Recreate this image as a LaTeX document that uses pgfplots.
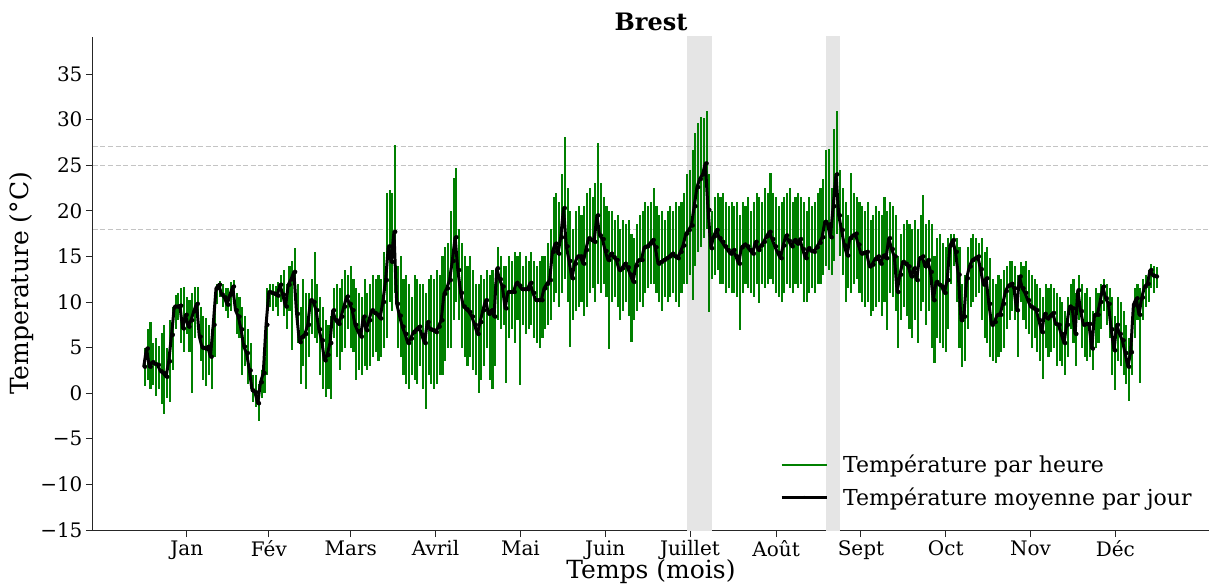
\documentclass[border=0pt]{standalone}
\usepackage{fontspec}
\setmainfont{DejaVu Serif}
\usepackage{pgfplots}
\usepackage{pgfplotstable}
\pgfplotsset{compat=1.18}
\definecolor{hourgreen}{HTML}{008000}
\definecolor{spangray}{HTML}{E5E5E5}
\definecolor{refgray}{HTML}{C4C4C4}

\pgfplotstableread{
d m lo hi
0 2.9 0.8 5.0
1 4.9 1.5 7.0
2 2.9 0.5 7.8
3 3.4 0.9 5.5
4 3.2 -0.3 6.0
5 3.1 0.5 5.2
6 2.4 -1.2 6.6
7 2.2 -2.3 7.5
8 1.8 -0.5 5.0
9 3.5 -1.0 8.0
10 6.4 2.5 9.5
11 9.5 7.0 10.8
12 9.5 8.0 11.0
13 9.6 5.5 11.5
14 7.1 4.5 11.7
15 8.6 6.5 10.5
16 7.3 4.5 10.2
17 8.0 0.0 11.0
18 9.0 6.0 11.6
19 9.8 7.0 11.7
20 6.2 3.5 9.5
21 5.0 1.5 8.5
22 4.9 0.8 8.2
23 5.1 2.0 7.5
24 4.0 0.5 7.0
25 7.5 4.0 9.5
26 11.5 9.8 12.0
27 11.9 10.5 12.3
28 10.8 9.5 12.0
29 10.5 9.0 11.5
30 9.7 8.2 11.5
31 10.8 9.0 12.2
32 11.7 10.0 12.4
33 9.1 6.5 11.0
34 8.4 6.0 10.5
35 7.0 2.0 9.5
36 5.1 3.0 8.5
37 4.4 1.0 7.0
38 2.5 0.5 5.5
39 0.3 -1.0 2.0
40 0.1 -1.5 2.0
41 -1.1 -3.0 1.0
42 1.2 -0.5 2.5
43 2.2 0.0 4.0
44 7.5 2.0 11.5
45 11.1 9.5 12.0
46 11.0 9.0 12.0
47 10.9 9.5 11.8
48 10.7 8.5 12.2
49 11.9 10.0 13.0
50 10.8 8.5 13.5
51 9.5 7.0 12.0
52 11.9 9.0 14.0
53 12.5 4.7 14.5
54 13.3 11.0 15.9
55 8.7 5.5 12.0
56 5.6 1.0 9.5
57 6.2 3.0 12.5
58 6.5 0.5 11.0
59 7.5 4.0 11.0
60 10.2 6.5 12.5
61 10.0 6.0 15.5
62 9.1 5.5 12.0
63 7.0 2.0 10.5
64 5.8 0.5 9.5
65 3.6 -0.4 8.0
66 4.2 0.5 7.5
67 5.5 -0.6 8.5
68 9.1 6.0 11.5
69 8.0 4.0 12.0
70 7.6 2.5 11.5
71 8.4 4.5 12.5
72 9.5 5.0 13.5
73 10.6 7.0 13.0
74 9.8 5.0 14.0
75 9.1 4.5 12.5
76 7.5 1.5 11.5
77 6.8 2.5 11.0
78 6.2 2.0 10.5
79 8.4 3.0 12.5
80 6.9 2.5 11.0
81 8.0 3.0 12.0
82 9.1 4.0 13.0
83 8.8 4.5 12.5
84 8.6 3.5 13.0
85 8.2 4.0 12.5
86 10.0 5.0 15.5
87 12.4 6.0 22.0
88 16.1 10.0 22.3
89 14.4 9.0 22.0
90 17.7 11.0 27.2
91 9.8 5.0 14.0
92 8.5 4.0 15.0
93 7.3 2.0 12.5
94 6.5 1.0 13.0
95 5.5 0.5 12.0
96 6.0 2.0 10.5
97 6.7 1.5 13.0
98 7.0 1.0 12.5
99 7.3 3.0 12.0
100 6.4 0.5 12.0
101 5.5 -1.7 11.0
102 7.8 2.0 12.5
103 7.0 1.0 13.0
104 6.9 0.5 12.5
105 6.7 1.0 13.5
106 7.3 2.0 13.0
107 8.0 2.0 15.0
108 10.9 3.5 16.0
109 11.5 5.0 16.5
110 12.4 5.0 20.0
111 14.5 8.0 23.6
112 17.1 10.0 24.7
113 13.5 8.0 18.0
114 11.0 5.0 16.5
115 9.5 4.0 15.0
116 9.2 3.0 14.0
117 8.9 4.0 15.0
118 8.4 2.5 13.5
119 7.5 2.0 12.0
120 6.5 0.0 12.0
121 7.8 1.5 13.0
122 9.1 3.0 12.5
123 10.2 5.0 13.5
124 8.7 1.5 13.0
125 9.1 0.5 13.5
126 8.4 3.0 12.0
127 13.7 8.0 16.0
128 12.5 7.0 15.0
129 11.7 7.5 14.0
130 9.3 1.1 14.0
131 11.1 6.0 15.0
132 11.1 7.0 14.5
133 11.1 5.5 15.5
134 12.1 8.0 15.0
135 11.8 0.9 15.5
136 11.4 7.5 14.0
137 11.4 6.5 15.0
138 11.4 7.0 14.5
139 12.1 7.5 15.5
140 11.0 6.0 14.5
141 10.2 5.5 14.0
142 10.2 5.0 14.5
143 10.2 6.0 15.0
144 11.5 7.0 15.0
145 12.0 7.5 16.5
146 12.4 8.0 18.0
147 15.5 10.0 21.5
148 16.4 11.0 22.0
149 15.3 9.5 21.0
150 17.1 11.0 24.0
151 20.3 12.5 28.1
152 16.1 10.0 22.5
153 14.5 5.1 20.0
154 12.6 8.0 18.0
155 14.2 9.0 20.0
156 15.0 9.5 20.5
157 15.0 10.0 19.5
158 14.2 8.5 20.5
159 15.7 9.5 22.0
160 17.0 11.0 22.5
161 16.8 11.5 21.5
162 16.6 10.0 23.0
163 19.5 12.0 27.4
164 17.3 11.0 23.0
165 16.9 12.0 21.5
166 15.6 10.5 20.5
167 14.6 4.9 20.0
168 15.3 10.0 20.0
169 14.9 10.5 19.0
170 14.6 9.5 19.5
171 13.5 8.0 18.0
172 13.7 9.0 19.0
173 14.2 10.0 18.5
174 13.8 8.5 19.0
175 13.0 5.6 17.5
176 12.2 8.0 17.0
177 14.0 9.0 18.5
178 14.6 10.0 19.5
179 14.6 9.5 20.0
180 16.0 11.0 21.0
181 16.1 11.5 20.5
182 16.4 12.0 21.0
183 16.8 12.0 22.5
184 16.0 11.0 20.5
185 14.2 10.0 19.5
186 14.4 9.0 20.0
187 14.6 10.5 19.0
188 14.8 10.0 20.0
189 15.0 10.5 20.5
190 15.3 11.0 20.0
191 15.0 10.0 21.0
192 14.8 9.5 20.5
193 15.5 11.0 21.0
194 16.2 12.0 22.0
195 17.5 12.0 24.0
196 17.9 13.0 24.5
197 18.4 10.2 26.7
198 20.5 14.0 28.5
199 22.6 15.5 29.6
200 23.5 16.0 30.3
201 24.0 17.0 30.2
202 25.2 18.0 30.9
203 20.1 8.9 24.0
204 15.9 12.5 20.0
205 17.2 13.0 21.5
206 17.9 13.5 22.0
207 17.0 12.0 21.5
208 16.6 12.0 22.0
209 16.1 11.0 21.0
210 15.7 11.5 20.5
211 15.3 11.0 21.0
212 15.7 11.0 20.5
213 15.0 10.5 21.0
214 14.2 6.9 19.5
215 16.0 11.0 21.0
216 16.3 12.0 20.5
217 16.1 11.5 21.5
218 15.7 11.0 20.0
219 15.3 10.5 21.0
220 16.6 12.0 22.0
221 15.7 9.9 21.5
222 16.2 12.0 21.0
223 16.6 11.5 22.5
224 17.2 12.0 22.0
225 17.7 12.5 24.1
226 16.9 12.0 22.0
227 16.1 11.0 21.5
228 15.4 10.5 20.5
229 14.8 10.0 21.0
230 16.2 11.0 21.5
231 17.3 12.0 22.0
232 16.7 11.5 22.5
233 16.1 11.0 21.0
234 16.8 12.0 21.5
235 16.4 11.5 22.0
236 16.9 12.0 21.5
237 15.8 10.0 21.0
238 14.8 10.0 20.0
239 15.9 11.0 21.5
240 15.6 11.5 20.5
241 15.5 11.0 21.0
242 16.0 12.0 22.0
243 16.5 12.0 22.5
244 17.1 13.0 23.5
245 18.8 14.0 26.7
246 18.5 13.5 26.8
247 17.1 13.0 22.5
248 20.5 14.5 29.0
249 24.0 17.5 30.9
250 19.5 15.0 24.5
251 17.9 13.0 22.5
252 16.2 10.0 21.0
253 15.1 11.5 19.5
254 17.0 11.0 24.1
255 17.3 12.0 22.0
256 17.5 12.5 21.5
257 16.3 11.0 21.0
258 15.3 10.0 20.5
259 15.4 9.5 20.0
260 15.5 10.0 21.0
261 13.9 8.5 19.0
262 14.1 9.0 19.5
263 14.7 9.5 20.5
264 15.0 10.0 20.0
265 14.2 8.5 19.5
266 15.1 10.0 21.5
267 14.8 6.9 20.0
268 17.0 11.0 21.0
269 15.8 10.5 20.5
270 15.0 9.0 19.5
271 11.1 5.0 15.0
272 13.0 8.0 17.5
273 14.4 9.5 18.5
274 14.2 8.5 19.0
275 13.9 7.0 18.5
276 12.8 6.0 18.0
277 13.7 8.0 19.0
278 12.4 5.5 18.0
279 14.8 9.0 19.5
280 15.0 10.0 21.7
281 13.9 7.5 18.5
282 14.6 9.0 19.0
283 13.3 5.0 18.5
284 10.2 3.3 15.0
285 12.2 6.0 17.0
286 11.9 5.5 17.5
287 11.7 5.0 16.5
288 11.0 4.5 16.0
289 12.4 7.0 17.0
290 16.2 12.0 17.5
291 16.8 14.0 17.5
292 15.5 10.0 17.0
293 13.0 5.0 16.0
294 8.0 2.9 12.0
295 8.4 3.5 13.0
296 12.6 7.0 16.0
297 13.9 9.5 17.0
298 14.6 10.0 17.5
299 14.8 10.5 17.0
300 15.0 11.0 16.5
301 13.6 8.0 17.0
302 11.9 6.0 15.5
303 12.6 5.5 16.0
304 9.8 4.0 14.8
305 7.5 3.5 12.5
306 7.8 3.3 12.0
307 8.6 4.0 13.0
308 8.6 4.5 12.5
309 9.8 5.0 13.5
310 11.2 7.0 14.0
311 11.8 8.0 14.5
312 12.0 9.0 14.5
313 11.5 8.0 14.0
314 9.1 4.0 13.0
315 12.8 10.0 14.4
316 11.5 8.0 14.0
317 11.0 7.0 14.5
318 10.2 6.5 13.5
319 9.5 5.0 13.0
320 9.3 6.0 12.5
321 9.1 4.5 12.0
322 8.0 3.5 11.5
323 6.7 1.6 10.5
324 8.7 5.0 12.0
325 8.2 4.0 11.5
326 8.5 4.5 12.0
327 8.8 5.0 11.5
328 7.6 3.0 11.0
329 7.5 3.5 10.5
330 6.5 3.0 10.0
331 5.5 2.0 9.0
332 7.5 4.0 10.5
333 9.5 7.0 12.0
334 9.3 5.5 12.5
335 6.5 3.0 11.0
336 11.3 8.0 13.0
337 9.0 5.0 12.0
338 7.5 4.0 11.0
339 7.6 3.5 11.5
340 7.6 4.0 10.5
341 4.9 2.5 9.0
342 8.6 5.0 11.5
343 8.6 5.5 11.0
344 10.0 7.0 12.0
345 11.7 9.0 12.5
346 10.4 7.5 12.0
347 9.8 6.0 11.5
348 7.0 2.0 10.5
349 4.7 0.3 8.5
350 7.5 3.5 10.5
351 6.5 3.0 10.0
352 5.8 2.0 9.0
353 4.4 1.0 7.5
354 2.9 -0.8 6.0
355 4.5 2.0 7.0
356 9.7 6.0 11.5
357 10.4 8.0 12.0
358 8.6 1.1 11.5
359 10.5 8.0 12.5
360 11.7 9.5 13.0
361 12.0 10.0 13.5
362 13.5 11.5 14.2
363 12.9 11.0 14.0
364 12.8 11.5 13.8
}\brest

\begin{document}
\begin{tikzpicture}
\begin{axis}[
  scale only axis, width=1116pt, height=493pt,
  at={(0pt,0pt)}, anchor=south west,
  xmin=-18.25, xmax=383.2, ymin=-15, ymax=39.06,
  axis x line*=bottom, axis y line*=left,
  axis line style={-, line width=1pt, black!85},
  xtick={15.5,45,74.5,105,135.5,166,196.5,227.5,258,288.5,319,349.5},
  xticklabels={Jan,Fév,Mars,Avril,Mai,Juin,Juillet,Août,Sept,Oct,Nov,Déc},
  ytick={-15,-10,-5,0,5,10,15,20,25,30,35},
  yticklabels={−15,−10,−5,0,5,10,15,20,25,30,35},
  tick align=outside, major tick length=7pt,
  tick style={black!85, line width=1pt},
  tick label style={font=\fontsize{20}{24}\selectfont},
  /pgf/number format/assume math mode=true,
  title={Brest},
  every axis title shift=0pt,
  title style={font=\bfseries\fontsize{24}{28}\selectfont, at={(axis description cs:0.5,1.0304)}, anchor=center},
  xlabel={Temps (mois)},
  ylabel={Temperature (°C)},
  xlabel style={font=\fontsize{25}{30}\selectfont, at={(axis description cs:0.5,-0.0852)}, anchor=center},
  ylabel style={font=\fontsize{25}{30}\selectfont, at={(axis description cs:-0.0636,0.5)}, anchor=center},
  legend style={draw=none, fill=none, at={(axis description cs:0.6155,0.1558)}, anchor=north west,
    font=\fontsize{22}{26}\selectfont, row sep=9pt, inner sep=0pt,
    /tikz/every odd column/.append style={column sep=13pt}},
  legend cell align=left,
  legend image code/.code={\draw[mark repeat=2,mark phase=2,#1] plot coordinates {(0pt,0pt)(22.5pt,0pt)(45pt,0pt)};},
]
\addplot[forget plot, draw=none, fill=spangray] coordinates {(195.3,-20) (204.5,-20) (204.5,45) (195.3,45)};
\addplot[forget plot, draw=none, fill=spangray] coordinates {(245.3,-20) (250.45,-20) (250.45,45) (245.3,45)};
\addplot[forget plot, refgray, line width=1pt, dash pattern=on 5pt off 2.5pt] coordinates {(-18.25,18) (383.2,18)};
\addplot[forget plot, refgray, line width=1pt, dash pattern=on 5pt off 2.5pt] coordinates {(-18.25,25) (383.2,25)};
\addplot[forget plot, refgray, line width=1pt, dash pattern=on 5pt off 2.5pt] coordinates {(-18.25,27) (383.2,27)};
\addplot[forget plot, only marks, mark=none,
  error bars/.cd, y dir=both, y explicit, error mark=none,
  error bar style={draw=hourgreen, line width=2.1pt}]
  table[x expr=\thisrow{d}+0.45, y=m,
        y error plus expr=\thisrow{hi}-\thisrow{m},
        y error minus expr=\thisrow{m}-\thisrow{lo}] {\brest};
\addlegendimage{hourgreen, line width=1.5pt}
\addlegendentry{Température par heure}
\addplot[black, line width=3pt, line join=round, mark=*, mark size=1.1pt, mark options={solid, line width=0.3pt}] table[x=d, y=m] {\brest};
\addlegendentry{Température moyenne par jour}
\end{axis}
\pgfresetboundingbox
\path[use as bounding box] (-93pt,-56pt) rectangle (1116pt,530pt);
\end{tikzpicture}
\end{document}
